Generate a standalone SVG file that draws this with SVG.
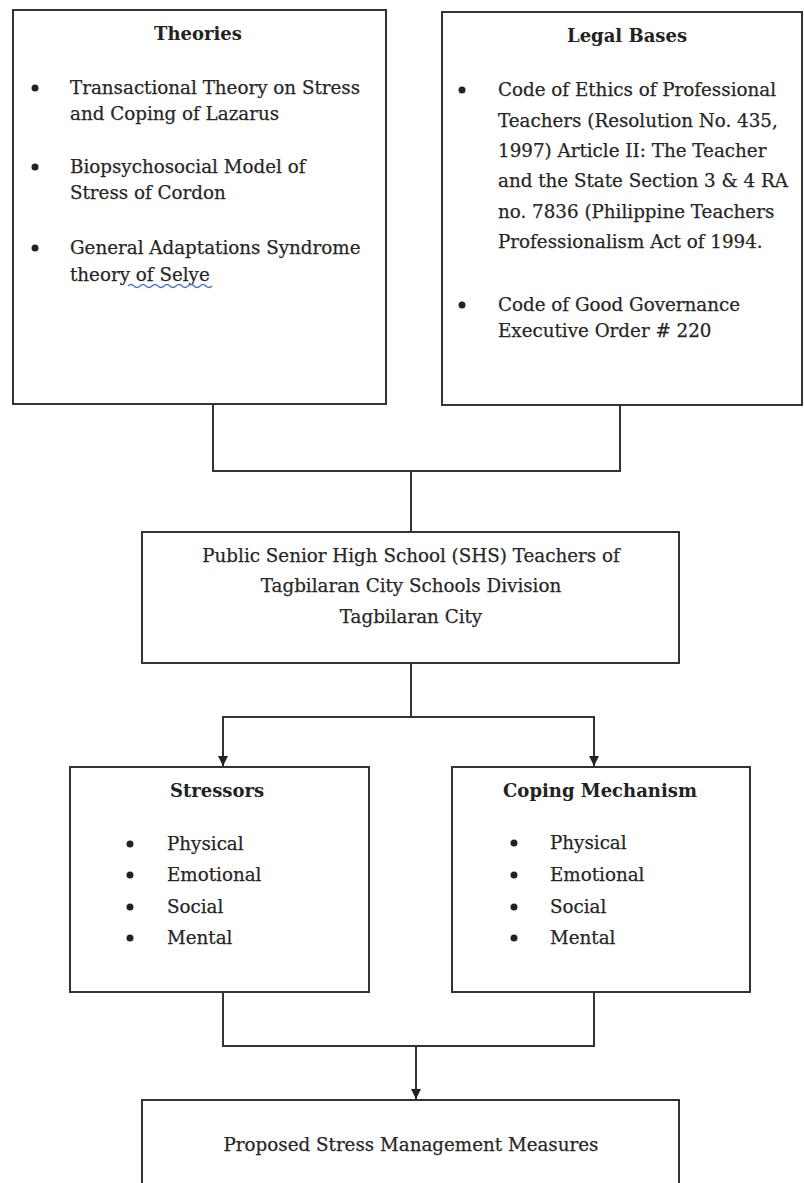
<svg xmlns="http://www.w3.org/2000/svg" width="804" height="1183" viewBox="0 0 804 1183">
<style>
.box{fill:#fff;stroke:#333;stroke-width:2}
.ln{fill:none;stroke:#333;stroke-width:2}
.t{font-family:"DejaVu Serif","Liberation Serif",serif;font-size:18.3px;fill:#262626;stroke:#262626;stroke-width:0.25}
.h{font-family:"DejaVu Serif","Liberation Serif",serif;font-size:18px;font-weight:bold;fill:#222;text-anchor:middle}
.c{text-anchor:middle}
.b{fill:#222}
</style>
<defs>
<marker id="arr" viewBox="0 0 10 10" refX="10" refY="5" markerWidth="10" markerHeight="10" markerUnits="userSpaceOnUse" orient="auto">
<path d="M0,0 L10,5 L0,10 Z" fill="#222"/>
</marker>
</defs>
<rect width="804" height="1183" fill="#fff"/>
<g id="connectors">
<path class="ln" d="M213,404 V471 H620 V405"/>
<path class="ln" d="M411,471 V532"/>
<path class="ln" d="M411,663 V717 H223 V766" marker-end="url(#arr)"/>
<path class="ln" d="M411,717 H594 V766" marker-end="url(#arr)"/>
<path class="ln" d="M223,992 V1046 H594 V992"/>
<path class="ln" d="M416,1046 V1099" marker-end="url(#arr)"/>
</g>
<g id="theories">
<rect class="box" x="13" y="10" width="373" height="394"/>
<text class="h" x="198" y="40">Theories</text>
<circle class="b" cx="35" cy="88" r="3.5"/>
<circle class="b" cx="35" cy="167" r="3.5"/>
<circle class="b" cx="35" cy="248" r="3.5"/>
<text class="t" x="70" y="94">Transactional Theory on Stress</text>
<text class="t" x="70" y="120">and Coping of Lazarus</text>
<text class="t" x="70" y="173">Biopsychosocial Model of</text>
<text class="t" x="70" y="199">Stress of Cordon</text>
<text class="t" x="70" y="254">General Adaptations Syndrome</text>
<text class="t" x="70" y="281">theory of Selye</text>
<path d="M128,286 q3,-3 6,0 t6,0 t6,0 t6,0 t6,0 t6,0 t6,0 t6,0 t6,0 t6,0 t6,0 t6,0 t6,0 t6,0" fill="none" stroke="#4a6fd0" stroke-width="1.3"/>
</g>
<g id="legal-bases">
<rect class="box" x="442" y="12" width="360" height="393"/>
<text class="h" x="627" y="42">Legal Bases</text>
<circle class="b" cx="462" cy="90" r="3.5"/>
<circle class="b" cx="462" cy="305" r="3.5"/>
<text class="t" x="498" y="96">Code of Ethics of Professional</text>
<text class="t" x="498" y="127">Teachers (Resolution No. 435,</text>
<text class="t" x="498" y="157">1997) Article II: The Teacher</text>
<text class="t" x="498" y="187">and the State Section 3 &amp; 4 RA</text>
<text class="t" x="498" y="218">no. 7836 (Philippine Teachers</text>
<text class="t" x="498" y="248">Professionalism Act of 1994.</text>
<text class="t" x="498" y="311">Code of Good Governance</text>
<text class="t" x="498" y="337">Executive Order # 220</text>
</g>
<g id="shs-teachers">
<rect class="box" x="142" y="532" width="537" height="131"/>
<text class="t c" x="411" y="562">Public Senior High School (SHS) Teachers of</text>
<text class="t c" x="411" y="592">Tagbilaran City Schools Division</text>
<text class="t c" x="411" y="623">Tagbilaran City</text>
</g>
<g id="stressors">
<rect class="box" x="70" y="767" width="299" height="225"/>
<text class="h" x="217" y="797">Stressors</text>
<circle class="b" cx="130" cy="844" r="3.5"/>
<circle class="b" cx="130" cy="875" r="3.5"/>
<circle class="b" cx="130" cy="907" r="3.5"/>
<circle class="b" cx="130" cy="938" r="3.5"/>
<text class="t" x="167" y="850">Physical</text>
<text class="t" x="167" y="881">Emotional</text>
<text class="t" x="167" y="913">Social</text>
<text class="t" x="167" y="944">Mental</text>
</g>
<g id="coping-mechanism">
<rect class="box" x="452" y="767" width="298" height="225"/>
<text class="h" x="600" y="797">Coping Mechanism</text>
<circle class="b" cx="514" cy="843" r="3.5"/>
<circle class="b" cx="514" cy="875" r="3.5"/>
<circle class="b" cx="514" cy="907" r="3.5"/>
<circle class="b" cx="514" cy="938" r="3.5"/>
<text class="t" x="550" y="849">Physical</text>
<text class="t" x="550" y="881">Emotional</text>
<text class="t" x="550" y="913">Social</text>
<text class="t" x="550" y="944">Mental</text>
</g>
<g id="proposed-measures">
<rect class="box" x="142" y="1100" width="537" height="95"/>
<text class="t c" x="411" y="1151">Proposed Stress Management Measures</text>
</g>
</svg>
